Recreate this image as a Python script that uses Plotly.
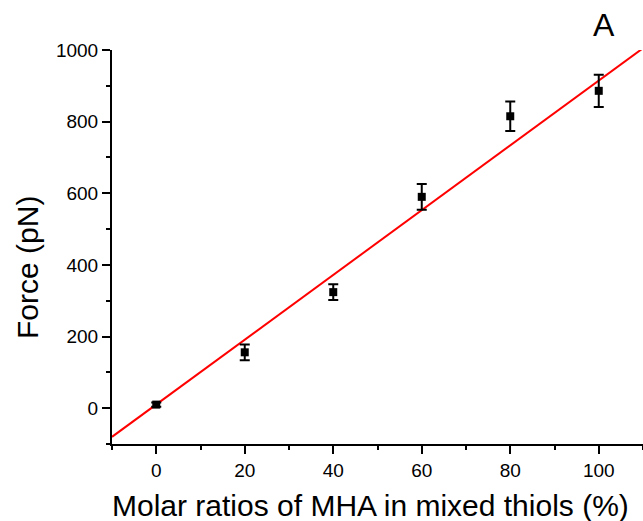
import plotly.graph_objects as go

ratios = [0, 20, 40, 60, 80, 100]
force = [10, 156, 324, 590, 815, 886]
force_err = [6, 22, 22, 36, 41, 45]

fit_x = [-10, 110]
fit_y = [-80, 1005]

x_ticks = [0, 20, 40, 60, 80, 100]
y_ticks = [0, 200, 400, 600, 800, 1000]

font_family = "Liberation Sans, Arial, sans-serif"

fig = go.Figure()
fig.add_trace(go.Scatter(
    x=fit_x, y=fit_y, mode="lines",
    line=dict(color="#ff0000", width=2),
    showlegend=False, hoverinfo="skip"))
fig.add_trace(go.Scatter(
    x=ratios, y=force, mode="markers",
    marker=dict(symbol="square", size=8, color="black"),
    error_y=dict(type="data", array=force_err, visible=True,
                 color="black", thickness=2, width=5),
    showlegend=False, cliponaxis=False))

axis_common = dict(
    showline=True, linecolor="black", linewidth=2,
    ticks="outside", tickcolor="black", tickwidth=2, ticklen=8,
    showgrid=False, zeroline=False, mirror=False,
    tickfont=dict(family=font_family, size=19, color="black"),
    minor=dict(ticks="outside", ticklen=4, tickwidth=2, tickcolor="black"),
)

fig.update_xaxes(
    range=[-10, 110], tickvals=x_ticks, ticktext=[str(v) for v in x_ticks],
    minor_dtick=10, minor_tick0=-10,
    **axis_common)
fig.update_yaxes(
    range=[-100, 1000], tickvals=y_ticks, ticktext=[str(v) for v in y_ticks],
    minor_dtick=100, minor_tick0=-100,
    **axis_common)

fig.add_annotation(
    text="Molar ratios of MHA in mixed thiols (%)", xref="paper", yref="paper",
    x=0.486, y=-0.155, xanchor="center", yanchor="middle", showarrow=False,
    font=dict(family=font_family, size=30, color="black"))
fig.add_annotation(
    text="Force (pN)", xref="paper", yref="paper", textangle=-90,
    x=-0.158, y=0.447, xanchor="center", yanchor="middle", showarrow=False,
    font=dict(family=font_family, size=30, color="black"))
fig.add_annotation(
    text="A", xref="paper", yref="paper", x=0.927, y=1.063,
    xanchor="center", yanchor="middle", showarrow=False,
    font=dict(family=font_family, size=32, color="black"))

fig.update_layout(
    width=643, height=521,
    margin=dict(l=112, r=0, t=50, b=77),
    plot_bgcolor="white", paper_bgcolor="white",
)

fig.write_html("out.html")
